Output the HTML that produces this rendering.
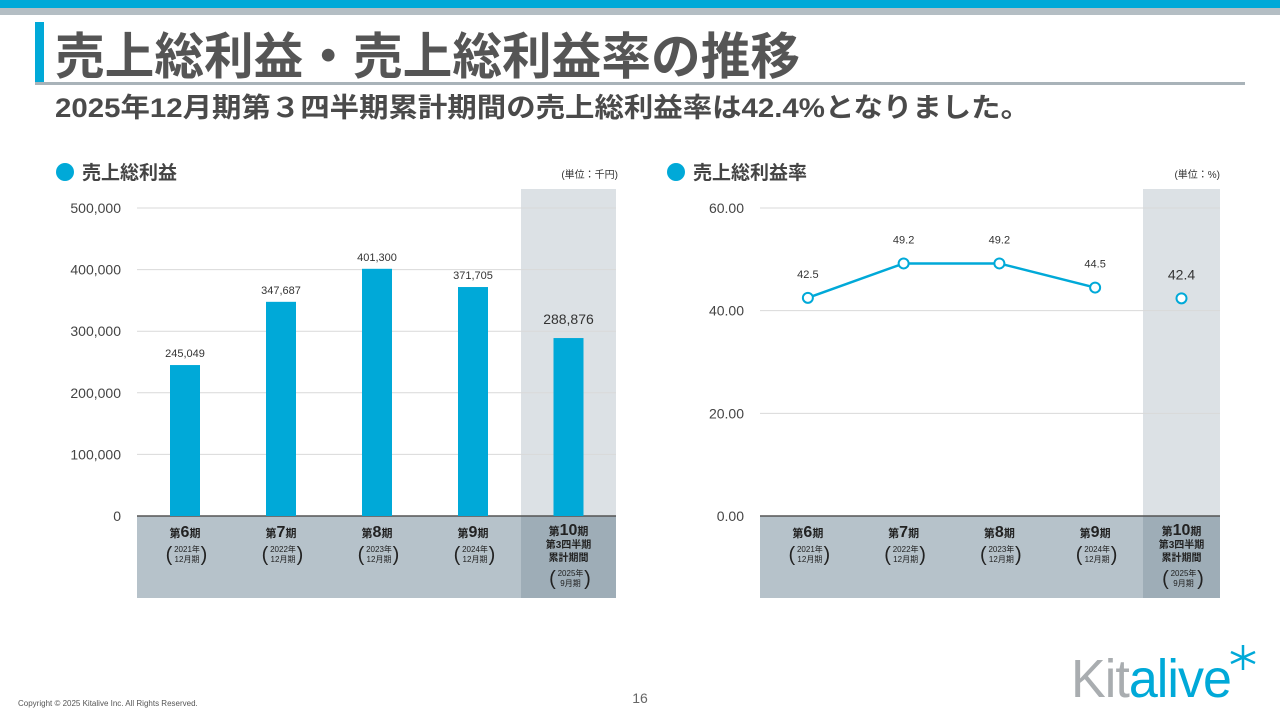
<!DOCTYPE html>
<html><head><meta charset="utf-8"><style>
body{margin:0;width:1280px;height:720px;overflow:hidden;background:#fff;font-family:"Liberation Sans","Noto Sans CJK JP",sans-serif}
svg text{font-family:"Liberation Sans","Noto Sans CJK JP",sans-serif}
</style></head><body>
<svg id="s" width="1280" height="720" xmlns="http://www.w3.org/2000/svg">
<rect x="0" y="0" width="1280" height="8" fill="#00A9D8"/>
<rect x="0" y="8" width="1280" height="7" fill="#B4BEC4"/>
<rect x="35" y="22" width="9" height="61" fill="#00A9D8"/>
<rect x="35" y="82" width="1210" height="3" fill="#A9B3B9"/>
<text x="55" y="74" font-size="50" font-weight="bold" fill="#555" textLength="745" lengthAdjust="spacingAndGlyphs">売上総利益・売上総利益率の推移</text>
<text x="55" y="117" font-size="27" font-weight="bold" fill="#4a4a4a" textLength="975" lengthAdjust="spacingAndGlyphs">2025年12月期第３四半期累計期間の売上総利益率は42.4%となりました。</text>

<circle cx="65" cy="172" r="9" fill="#00A9D8"/>
<text x="82" y="179" font-size="19" font-weight="bold" fill="#444">売上総利益</text>
<text x="618" y="178" font-size="10" fill="#333" text-anchor="end">(単位：千円)</text>
<circle cx="676" cy="172" r="9" fill="#00A9D8"/>
<text x="693" y="179" font-size="19" font-weight="bold" fill="#444">売上総利益率</text>
<text x="1220" y="178" font-size="10" fill="#333" text-anchor="end">(単位：%)</text>

<text x="18" y="706" font-size="8" fill="#555">Copyright © 2025 Kitalive Inc. All Rights Reserved.</text>
<text x="640" y="703" font-size="14" fill="#666" text-anchor="middle">16</text>
<g>
<text x="1071" y="697" font-size="54" fill="#A9ADB0" letter-spacing="-1" textLength="160" lengthAdjust="spacingAndGlyphs">Kit<tspan fill="#00A9D8">alive</tspan></text>
<g stroke="#00A9D8" stroke-width="2.5"><line x1="1243" y1="645" x2="1243" y2="670"/><line x1="1231" y1="652" x2="1255" y2="663"/><line x1="1231" y1="663" x2="1255" y2="652"/></g>
</g>
<g id="L"></g><g id="R"></g>
</svg>
<script>
const cats=["第6期","第7期","第8期","第9期","第10期"];
const periods=[["2021年","12月期"],["2022年","12月期"],["2023年","12月期"],["2024年","12月期"],["2025年","9月期"]];
const profit=[245049,347687,401300,371705,288876];
const profitTicks=[0,100000,200000,300000,400000,500000];
const rate=[42.5,49.2,49.2,44.5,42.4];
const rateTicks=[0,20,40,60];
const NS="http://www.w3.org/2000/svg";
function mk(p,tag,a,t){const e=document.createElementNS(NS,tag);for(const k in a)e.setAttribute(k,a[k]);if(t!==undefined)e.textContent=t;p.appendChild(e);return e;}
function chart(g,x0,x1,lastW,max,ticks,fmt,isBar,vals,valFmt){
 const y0=516,yT=208,n=cats.length,cw=(x1-x0-lastW)/(n-1),hx=x1-lastW;
 const ys=v=>y0-(v/max)*(y0-yT);const xc=i=>i<n-1?x0+cw*(i+0.5):hx+lastW/2;
 let r=mk(g,'rect',{x:hx,y:189,width:lastW,height:y0-189,fill:'#DCE1E5'});
 
 
 ticks.forEach(t=>{let l=mk(g,'line',{x1:x0,x2:x1,y1:ys(t),y2:ys(t),stroke:'#D9D9D9','stroke-width':1});
  
  
  let tx=mk(g,'text',{x:x0-16,y:ys(t)+5,'font-size':14,fill:'#444','text-anchor':'end'},fmt(t));
  
  });
 let band=mk(g,'rect',{x:x0,y:y0,width:hx-x0,height:82,fill:'#B6C2CA'});
 
 
 let band2=mk(g,'rect',{x:hx,y:y0,width:lastW,height:82,fill:'#9EADB7'});
 
 
 let ax=mk(g,'line',{x1:x0,x2:x1,y1:y0,y2:y0,stroke:'#555','stroke-width':1.5});
 
 
 cats.forEach((c,i)=>{const cx=xc(i);const last=i===4;
  let t=mk(g,'text',{x:cx,y:last?535:537,'font-size':11,'font-weight':'bold',fill:'#222','text-anchor':'middle'});
  
  
  mk(t,'tspan',{},c.slice(0,1));mk(t,'tspan',{'font-size':16},c.slice(1,-1));mk(t,'tspan',{},c.slice(-1));
  let py=549;
  if(last){let a=mk(g,'text',{x:cx,y:548,'font-size':10,'font-weight':'bold',fill:'#222','text-anchor':'middle'},'第3四半期');
   let b=mk(g,'text',{x:cx,y:561,'font-size':10,'font-weight':'bold',fill:'#222','text-anchor':'middle'},'累計期間');py=573;}
  let p1=mk(g,'text',{x:cx+2,y:py+3,'font-size':8,fill:'#222','text-anchor':'middle'},periods[i][0]);
  let p2=mk(g,'text',{x:cx+2,y:py+13,'font-size':8,fill:'#222','text-anchor':'middle'},periods[i][1]);
  let br=mk(g,'text',{x:cx-16,y:py+12,'font-size':20,fill:'#222','text-anchor':'middle','font-weight':'lighter'},'(');
  let br2=mk(g,'text',{x:cx+19,y:py+12,'font-size':20,fill:'#222','text-anchor':'middle','font-weight':'lighter'},')');
 });
 if(isBar){vals.forEach((v,i)=>{let b=mk(g,'rect',{x:xc(i)-15,y:ys(v),width:30,height:y0-ys(v),fill:'#00A9D8'});
   
   
   let l=mk(g,'text',{x:xc(i),y:ys(v)-(i===4?14:8),'font-size':i===4?14:11,fill:'#333','text-anchor':'middle'},valFmt(v));
   
   });}
 else{let pts=vals.slice(0,4).map((v,i)=>xc(i)+','+ys(v)).join(' ');
  let pl=mk(g,'polyline',{points:pts,fill:'none',stroke:'#00A9D8','stroke-width':2.5});
  
  
  vals.forEach((v,i)=>{let c=mk(g,'circle',{cx:xc(i),cy:ys(v),r:5,fill:'#fff',stroke:'#00A9D8','stroke-width':2});
   
   
   let l=mk(g,'text',{x:xc(i),y:ys(v)-(i===4?19:20),'font-size':i===4?14:11,fill:'#333','text-anchor':'middle'},valFmt(v));
   
   });}
}
chart(document.getElementById('L'),137,616,95,500000,profitTicks,t=>t.toLocaleString('en-US'),true,profit,v=>v.toLocaleString('en-US'));
chart(document.getElementById('R'),760,1220,77,60,rateTicks,t=>t.toFixed(2),false,rate,v=>v.toFixed(1));
</script>
</body></html>
